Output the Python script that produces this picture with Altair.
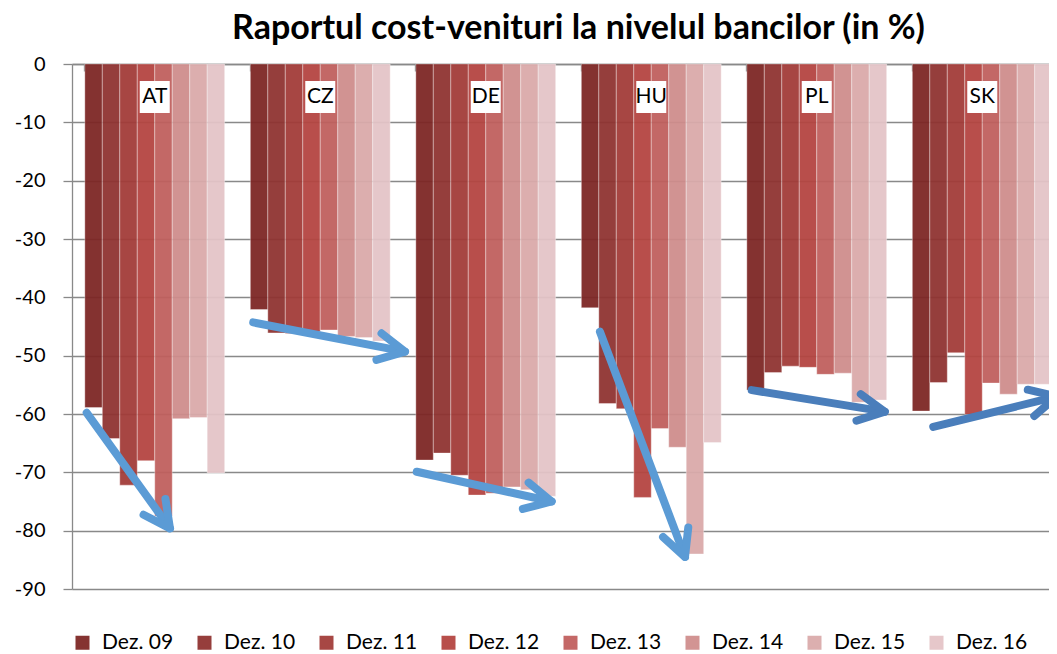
import math
import altair as alt
import pandas as pd

# ---------------- data ----------------
title_text = "Raportul cost-venituri la nivelul bancilor (in %)"
countries = ["AT", "CZ", "DE", "HU", "PL", "SK"]
periods = ["Dez. 09", "Dez. 10", "Dez. 11", "Dez. 12", "Dez. 13", "Dez. 14", "Dez. 15", "Dez. 16"]

at_vals = [-58.9, -64.2, -72.2, -68.0, -77.5, -60.8, -60.6, -70.1]
cz_vals = [-42.1, -46.1, -46.2, -45.9, -45.6, -46.7, -46.9, -47.5]
de_vals = [-67.9, -66.7, -70.5, -73.9, -73.6, -72.5, -73.0, -74.1]
hu_vals = [-41.8, -58.2, -59.1, -74.3, -62.5, -65.7, -84.0, -64.9]
pl_vals = [-55.9, -52.9, -51.8, -52.0, -53.2, -53.0, -58.0, -57.6]
sk_vals = [-59.5, -54.6, -49.5, -60.1, -54.7, -56.6, -54.9, -54.9]

y_ticks = [0, -10, -20, -30, -40, -50, -60, -70, -80, -90]

# trend arrows (position in group units along x, value along y)
arrow_ids = ["AT", "CZ", "DE", "HU", "PL", "SK"]
arrow_u0 = [0.089, 1.095, 2.083, 3.190, 4.107, 5.204]
arrow_v0 = [-59.8, -44.3, -69.9, -45.9, -55.9, -62.2]
arrow_u1 = [0.592, 2.012, 2.898, 3.704, 4.911, 5.950]
arrow_v1 = [-79.6, -49.3, -75.0, -84.5, -59.6, -57.0]
arrow_colors = ["#5B9BD5", "#5B9BD5", "#5B9BD5", "#5B9BD5", "#4A7EBB", "#4A7EBB"]

bar_colors = ["#7D2624", "#8F3230", "#A23B38", "#B44440",
              "#C05F5D", "#CF8D8C", "#DAAAAA", "#E4C4C7"]

# ---------------- layout ----------------
W = 977          # visible plot width (page stays inside the window)
RANGE_W = 993    # group layout runs past the right edge, cut off like the original
H = 525
FONT = "Lato"
GRID = "#898989"

rows = []
for c, vals in zip(countries, [at_vals, cz_vals, de_vals, hu_vals, pl_vals, sk_vals]):
    for p, v in zip(periods, vals):
        rows.append({"country": c, "period": p, "value": v})
df = pd.DataFrame(rows)

lab_df = pd.DataFrame({"country": countries})

step_px = RANGE_W / 6.0
ppu = H / 90.0
line_rows, head_rows = [], []
for i, a in enumerate(arrow_ids):
    line_rows.append({"id": a, "o": 0, "u": arrow_u0[i], "v": arrow_v0[i], "col": arrow_colors[i]})
    line_rows.append({"id": a, "o": 1, "u": arrow_u1[i], "v": arrow_v1[i], "col": arrow_colors[i]})
    dx = (arrow_u1[i] - arrow_u0[i]) * step_px
    dy = -(arrow_v1[i] - arrow_v0[i]) * ppu
    ang = math.degrees(math.atan2(dy, dx)) % 360
    head_rows.append({"id": a, "u": arrow_u1[i], "v": arrow_v1[i], "ang": ang, "col": arrow_colors[i]})
line_df = pd.DataFrame(line_rows)
head_df = pd.DataFrame(head_rows)

xscale = alt.Scale(type="band", domain=countries, range=[0, RANGE_W],
                   paddingInner=0.155, paddingOuter=0.0775)
yscale = alt.Scale(domain=[-90, 0], nice=False, zero=False)

bars = alt.Chart(df).mark_bar(opacity=0.94, stroke="white", strokeWidth=0.8,
                              strokeOpacity=0.45).encode(
    x=alt.X("country:N", scale=xscale, sort=countries,
            axis=alt.Axis(orient="bottom", offset=-H, labels=False, title=None,
                          domainColor=GRID, domainWidth=1.3, tickColor=GRID,
                          tickWidth=1.3, tickSize=7, bandPosition=0, grid=False)),
    xOffset=alt.XOffset("period:N", sort=periods,
                        scale=alt.Scale(domain=periods, paddingInner=0, paddingOuter=0)),
    y=alt.Y("value:Q", scale=yscale,
            axis=alt.Axis(values=y_ticks, title=None, labelFont=FONT, labelFontSize=20,
                          labelColor="#000000", labelPadding=18, tickSize=9,
                          tickColor=GRID, tickWidth=1.3, domainColor=GRID,
                          domainWidth=1.3, gridColor=GRID, gridWidth=1.3,
                          labelExpr="'' + datum.value")),
    color=alt.Color("period:N", sort=periods,
                    scale=alt.Scale(domain=periods, range=bar_colors),
                    legend=alt.Legend(orient="none", legendX=0, legendY=568,
                                      direction="horizontal", columns=8, title=None,
                                      symbolType="square", symbolSize=196,
                                      symbolStrokeWidth=0, symbolOpacity=0.94,
                                      labelFont=FONT, labelFontSize=21,
                                      labelColor="#000000", labelOffset=9,
                                      columnPadding=20, gridAlign="all", padding=0)),
)

box = alt.Chart(lab_df).mark_bar(width=30, color="white").encode(
    x=alt.X("country:N", scale=xscale, sort=countries),
    y=alt.datum(-2.9, scale=yscale),
    y2=alt.datum(-8.4),
)

text = alt.Chart(lab_df).mark_text(font=FONT, fontSize=21, color="#000000",
                                   baseline="middle", align="center").encode(
    x=alt.X("country:N", scale=xscale, sort=countries),
    y=alt.datum(-5.7, scale=yscale),
    text="country:N",
)

uscale = alt.Scale(domain=[0, 6], range=[0, RANGE_W], nice=False, zero=False)

shafts = alt.Chart(line_df).mark_line(strokeWidth=8, strokeCap="round").encode(
    x=alt.X("u:Q", scale=uscale, axis=None),
    y=alt.Y("v:Q", scale=yscale, title=None),
    detail="id:N",
    order="o:Q",
    stroke=alt.Stroke("col:N", scale=None),
)

heads = alt.Chart(head_df).mark_point(
    shape="M-1,-0.51L0,0L-1,0.51", filled=False, size=2800, strokeWidth=8,
    strokeCap="round", strokeJoin="round", opacity=1).encode(
    x=alt.X("u:Q", scale=uscale, axis=None),
    y=alt.Y("v:Q", scale=yscale, title=None),
    angle=alt.Angle("ang:Q", scale=None),
    stroke=alt.Stroke("col:N", scale=None),
)

chart = alt.layer(
    alt.layer(bars, box, text),
    alt.layer(shafts, heads),
).resolve_scale(x="independent").properties(
    width=W, height=H,
    autosize=alt.AutoSizeParams(type="none"),
    padding={"left": 64, "top": 56, "right": 0, "bottom": 66},
    title=alt.TitleParams(title_text, font=FONT, fontSize=34, fontWeight="bold",
                          color="#000000", anchor="middle", dx=18, dy=45, offset=26,
                          baseline="alphabetic"),
).configure_view(stroke=None)

chart.save("out.html", embed_options={"renderer": "svg", "actions": False})
